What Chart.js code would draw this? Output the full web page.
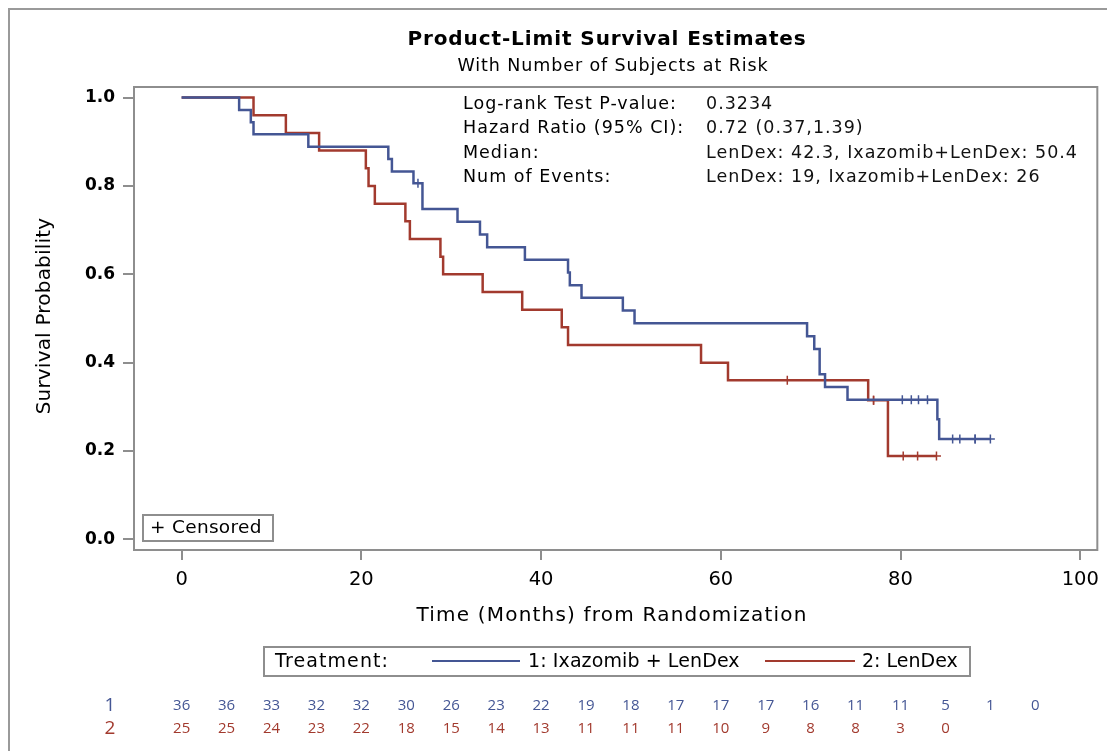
<!DOCTYPE html>
<html>
<head>
<meta charset="utf-8">
<script src="https://cdn.jsdelivr.net/npm/chart.js@4/dist/chart.umd.min.js"></script>
<style>
  html, body { margin: 0; padding: 0; background: #fff; }
  #wrap { width: 1107px; height: 751px; }
</style>
</head>
<body>
<div id="wrap"><canvas id="km" width="1107" height="751"></canvas></div>
<script>
// Kaplan-Meier step data: time of each step (months) and survival after it
const ixaTimes = [0, 6.4, 7.7, 8.0, 14.1, 23.0, 23.4, 25.8, 26.8, 30.7, 33.2, 34.0, 38.2, 43.0, 43.2, 44.5, 49.1, 50.4, 69.6, 70.4, 71.0, 71.6, 74.1, 84.1, 84.3, 90.0];
const ixaSurv  = [1.0, 0.972, 0.944, 0.917, 0.889, 0.861, 0.833, 0.806, 0.748, 0.719, 0.690, 0.661, 0.633, 0.604, 0.575, 0.547, 0.518, 0.489, 0.460, 0.431, 0.374, 0.345, 0.316, 0.272, 0.227, 0.227];
const ixaCensored = [26.3, 80.2, 81.2, 82.0, 83.0, 85.8, 86.6, 88.3, 88.3, 90.0];

const lenTimes = [0, 8.0, 11.6, 15.3, 20.5, 20.8, 21.5, 24.9, 25.4, 28.8, 29.1, 33.5, 37.9, 42.3, 43.0, 57.8, 60.8, 76.4, 78.6, 84.0];
const lenSurv  = [1.0, 0.96, 0.92, 0.88, 0.84, 0.80, 0.76, 0.72, 0.68, 0.64, 0.60, 0.56, 0.52, 0.48, 0.44, 0.40, 0.36, 0.315, 0.189, 0.189];
const lenCensored = [67.4, 77.0, 77.0, 80.3, 81.9, 84.0];

// Number at risk
const riskTimes = [0, 5, 10, 15, 20, 25, 30, 35, 40, 45, 50, 55, 60, 65, 70, 75, 80, 85, 90, 95];
const ixaRisk = [36, 36, 33, 32, 32, 30, 26, 23, 22, 19, 18, 17, 17, 17, 16, 11, 11, 5, 1, 0];
const lenRisk = [25, 25, 24, 23, 22, 18, 15, 14, 13, 11, 11, 11, 10, 9, 8, 8, 3, 0];

const xTickValues = [0, 20, 40, 60, 80, 100];
const yTickValues = [0, 0.2, 0.4, 0.6, 0.8, 1.0];

const statLabels = ['Log-rank Test P-value:', 'Hazard Ratio (95% CI):', 'Median:', 'Num of Events:'];
const statValues = ['0.3234', '0.72 (0.37,1.39)', 'LenDex: 42.3, Ixazomib+LenDex: 50.4', 'LenDex: 19, Ixazomib+LenDex: 26'];

const BLUE = '#445694';
const RED = '#A23A2E';
const GRAY = '#8e8e8e';
const FONT = '"DejaVu Sans", "Open Sans", sans-serif';
const NUMFONT = '"Open Sans", "DejaVu Sans", sans-serif';

function stepPoints(times, surv) {
  return times.map((t, i) => ({ x: t, y: surv[i] }));
}
// survival level at time t (right-continuous step function)
function survAt(times, surv, t) {
  let s = surv[0];
  for (let i = 0; i < times.length; i++) { if (times[i] <= t) s = surv[i]; }
  return s;
}
function censorPoints(cens, times, surv) {
  return cens.map(t => ({ x: t, y: survAt(times, surv, t) }));
}

// text helper with optional letter spacing
function label(c, str, x, y, font, align, spacing) {
  c.font = font;
  c.textAlign = align;
  if ('letterSpacing' in c) c.letterSpacing = (spacing || 0) + 'px';
  c.fillText(str, x, y);
  if ('letterSpacing' in c) c.letterSpacing = '0px';
}

const decor = {
  id: 'decor',
  afterDraw(chart) {
    const c = chart.ctx;
    const a = chart.chartArea;
    const xs = chart.scales.x;
    c.save();

    // outer frame
    c.strokeStyle = '#9a9a9a';
    c.lineWidth = 2;
    c.beginPath();
    c.moveTo(9, 751); c.lineTo(9, 9); c.lineTo(1107, 9);
    c.stroke();

    // plot frame
    c.strokeStyle = GRAY;
    c.lineWidth = 2;
    c.strokeRect(a.left, a.top, a.right - a.left, a.bottom - a.top);

    // titles
    c.fillStyle = '#000';
    c.textBaseline = 'middle';
    label(c, 'Product-Limit Survival Estimates', 607, 40, 'bold 20px ' + FONT, 'center', 0.9);
    label(c, 'With Number of Subjects at Risk', 613, 66, '17.5px ' + FONT, 'center', 0.9);

    // test statistics
    statLabels.forEach((s, i) => {
      c.fillStyle = '#000';
      label(c, s, 463, 104 + i * 24.5, '17.5px ' + FONT, 'left', 1.0);
      c.fillStyle = '#111';
      label(c, statValues[i], 706, 104 + i * 24.5, '17.5px ' + FONT, 'left', 1.0);
    });

    // censored key
    c.strokeStyle = GRAY;
    c.lineWidth = 2;
    c.strokeRect(143, 515, 130, 26);
    c.fillStyle = '#000';
    label(c, '+ Censored', 150, 528, '18.5px ' + FONT, 'left', 0.3);

    // axis titles
    label(c, 'Time (Months) from Randomization', 612, 616, '20px ' + FONT, 'center', 1.2);
    c.save();
    c.translate(45, 316);
    c.rotate(-Math.PI / 2);
    label(c, 'Survival Probability', 0, 0, '20px ' + FONT, 'center', 0.2);
    c.restore();

    // treatment legend
    c.strokeStyle = GRAY;
    c.lineWidth = 2;
    c.strokeRect(264, 647, 706, 29);
    c.fillStyle = '#000';
    label(c, 'Treatment:', 275, 662, '19px ' + FONT, 'left', 1.1);
    c.lineWidth = 2;
    c.strokeStyle = BLUE;
    c.beginPath(); c.moveTo(432, 661); c.lineTo(520, 661); c.stroke();
    label(c, '1: Ixazomib + LenDex', 528, 662, '19px ' + FONT, 'left', 0.1);
    c.strokeStyle = RED;
    c.beginPath(); c.moveTo(765, 661); c.lineTo(855, 661); c.stroke();
    label(c, '2: LenDex', 862, 662, '19px ' + FONT, 'left', 0);

    // number-at-risk table
    c.fillStyle = BLUE; label(c, '1', 110, 706, '19px ' + NUMFONT, 'center', 0);
    c.fillStyle = RED;  label(c, '2', 110, 729, '19px ' + NUMFONT, 'center', 0);
    c.fillStyle = BLUE;
    ixaRisk.forEach((n, i) => label(c, String(n), xs.getPixelForValue(riskTimes[i]), 706, '15px ' + NUMFONT, 'center', 0));
    c.fillStyle = RED;
    lenRisk.forEach((n, i) => label(c, String(n), xs.getPixelForValue(riskTimes[i]), 729, '15px ' + NUMFONT, 'center', 0));

    c.restore();
  }
};

new Chart(document.getElementById('km'), {
  type: 'line',
  data: {
    datasets: [
      { label: '1: Ixazomib + LenDex', data: stepPoints(ixaTimes, ixaSurv), borderColor: BLUE, borderWidth: 2.5, stepped: 'before', pointRadius: 0, fill: false },
      { label: '2: LenDex', data: stepPoints(lenTimes, lenSurv), borderColor: RED, borderWidth: 2.5, stepped: 'before', pointRadius: 0, fill: false },
      { type: 'scatter', label: 'censored 1', data: censorPoints(ixaCensored, ixaTimes, ixaSurv), pointStyle: 'cross', pointRadius: 4.5, borderColor: BLUE, backgroundColor: BLUE, pointBorderWidth: 1.5 },
      { type: 'scatter', label: 'censored 2', data: censorPoints(lenCensored, lenTimes, lenSurv), pointStyle: 'cross', pointRadius: 4.5, borderColor: RED, backgroundColor: RED, pointBorderWidth: 1.5 }
    ]
  },
  options: {
    responsive: false,
    animation: false,
    events: [],
    layout: { padding: { top: 87, right: 8, left: 0, bottom: 0 } },
    plugins: { legend: { display: false }, tooltip: { enabled: false } },
    scales: {
      x: {
        type: 'linear', min: -5.3, max: 101.9,
        afterBuildTicks: s => { s.ticks = xTickValues.map(v => ({ value: v })); },
        afterFit: s => { s.height = 201; },
        grid: { drawOnChartArea: false, drawTicks: true, tickLength: 10, color: GRAY, lineWidth: 2 },
        border: { display: false },
        ticks: { color: '#000', font: { family: FONT, size: 19.5 }, padding: 8, maxRotation: 0 }
      },
      y: {
        type: 'linear', min: -0.024, max: 1.024,
        afterBuildTicks: s => { s.ticks = yTickValues.map(v => ({ value: v })); },
        afterFit: s => { s.width = 134; },
        grid: { drawOnChartArea: false, drawTicks: true, tickLength: 11, color: GRAY, lineWidth: 2 },
        border: { display: false },
        ticks: { color: '#000', font: { family: FONT, size: 17, weight: 'bold' }, padding: 8, callback: v => Number(v).toFixed(1) }
      }
    }
  },
  plugins: [decor]
});
</script>
</body>
</html>
